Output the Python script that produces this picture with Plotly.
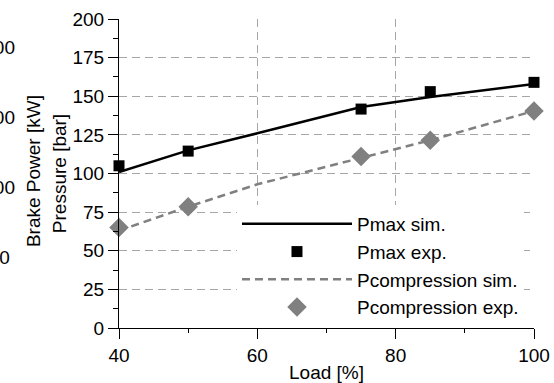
import plotly.graph_objects as go

load_exp = [40, 50, 75, 85, 100]
pmax_exp = [105, 114.5, 141.7, 153, 159]
pcomp_exp = [65, 78.5, 111, 121.5, 140.5]

load_sim = [40, 50, 60, 75, 85, 100]
pmax_sim = [101, 115, 126, 143, 149.5, 158]
pcomp_sim = [63, 78.5, 93, 110, 121.5, 140.5]

y_ticks = [0, 25, 50, 75, 100, 125, 150, 175, 200]
x_ticks = [40, 60, 80, 100]

bp_ticks = [0, 100, 200, 300]
bp_text = ["0\u00a0", "100", "200", "300"]

FONT = "Liberation Sans, Arial, sans-serif"
GRAY = "#808080"

fig = go.Figure()
fig.add_trace(go.Scatter(x=load_sim, y=pmax_sim, mode="lines", name="Pmax sim.",
                         line=dict(color="black", width=2.5)))
fig.add_trace(go.Scatter(x=load_exp, y=pmax_exp, mode="markers", name="Pmax exp.",
                         marker=dict(symbol="square", size=11, color="black"),
                         cliponaxis=False))
fig.add_trace(go.Scatter(x=load_sim, y=pcomp_sim, mode="lines", name="Pcompression sim.",
                         line=dict(color=GRAY, width=2.5, dash="8px,5px")))
fig.add_trace(go.Scatter(x=load_exp, y=pcomp_exp, mode="markers", name="Pcompression exp.",
                         marker=dict(symbol="diamond", size=15, color=GRAY),
                         cliponaxis=False))
fig.add_trace(go.Scatter(x=[], y=[], yaxis="y2", showlegend=False))

fig.update_layout(
    width=554, height=383,
    margin=dict(l=119, r=20, t=19, b=55),
    paper_bgcolor="white", plot_bgcolor="white",
    font=dict(family=FONT, size=19, color="black"),
    xaxis=dict(range=[40, 100], tickvals=x_ticks, showline=True, linecolor="black",
               linewidth=1, ticks="outside", ticklen=10, tickcolor="black",
               minor=dict(dtick=10, ticks="outside", ticklen=4, tickcolor="black", showgrid=False),
               showgrid=True, gridcolor="#a6a6a6", griddash="8px,5px", gridwidth=1,
               zeroline=False, automargin=False,
               title=dict(text="Load [%]", standoff=7, font=dict(size=19))),
    yaxis=dict(range=[0, 200], tickvals=y_ticks, showline=True, linecolor="black",
               linewidth=1, ticks="outside", ticklen=10, tickcolor="black",
               minor=dict(dtick=12.5, ticks="outside", ticklen=5, tickcolor="black", showgrid=False),
               showgrid=True, gridcolor="#a6a6a6", griddash="8px,5px", gridwidth=1,
               zeroline=False, automargin=False,
               title=dict(text="Pressure [bar]", standoff=0, font=dict(size=19))),
    yaxis2=dict(overlaying="y", side="left", anchor="free", position=0,
                range=[-100, 340], tickvals=bp_ticks, ticktext=bp_text,
                showgrid=False, showline=False, ticks="", zeroline=False,
                ticklabelstandoff=104, automargin=False),
    legend=dict(x=0.2843, y=0.398, xanchor="left", yanchor="top",
                bgcolor="white", borderwidth=0, itemwidth=110,
                font=dict(size=19), tracegroupgap=0),
    annotations=[dict(text="Brake Power [kW]", xref="paper", yref="paper",
                      x=-0.207, y=0.508, textangle=-90, showarrow=False,
                      font=dict(size=19), xanchor="center", yanchor="middle")],
    showlegend=True,
)

fig.write_html("out.html")
